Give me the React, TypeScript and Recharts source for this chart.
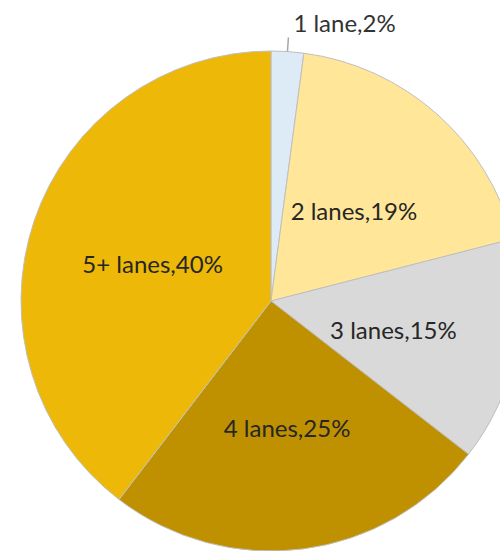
import { PieChart, Pie, Cell } from "recharts";

const categories = ["1 lane", "2 lanes", "3 lanes", "4 lanes", "5+ lanes"];
const shares = [2.1, 18.9, 14.5, 24.9, 39.6];
const shareLabels = ["2%", "19%", "15%", "25%", "40%"];
const COLORS = ["#DDEBF7", "#FFE699", "#D9D9D9", "#BF9000", "#EDB808"];

const data = categories.map((name, i) => ({ name, value: shares[i] }));

const RAD = Math.PI / 180;
const FONT = "Lato, sans-serif";
const FONT_SIZE = 24;

function renderLabel(props: any) {
  const { cx, cy, midAngle, outerRadius, index } = props;
  const text = `${categories[index]},${shareLabels[index]}`;
  const cos = Math.cos(-midAngle * RAD);
  const sin = Math.sin(-midAngle * RAD);
  if (index === 0) {
    // small slice: label outside with a short leader
    const x1 = cx + outerRadius * cos;
    const y1 = cy + outerRadius * sin;
    const x2 = cx + (outerRadius + 14) * cos;
    const y2 = cy + (outerRadius + 14) * sin;
    return (
      <g>
        <line x1={x1} y1={y1} x2={x2} y2={y2} stroke="#A6A6A6" strokeWidth={1.5} />
        <text x={x2 + 5} y={y2 - 6} fill="#333" fontSize={FONT_SIZE} fontFamily={FONT} textAnchor="start">
          {text}
        </text>
      </g>
    );
  }
  const r = outerRadius * 0.5;
  return (
    <text
      x={cx + r * cos}
      y={cy + r * sin}
      dy={3}
      fill="#262626"
      fontSize={FONT_SIZE}
      fontFamily={FONT}
      textAnchor="middle"
      dominantBaseline="central"
    >
      {text}
    </text>
  );
}

export default function App() {
  return (
    <div style={{ position: "absolute", left: 0, top: 0, width: 500, height: 551, background: "#fff" }}>
      <PieChart width={500} height={551} margin={{ top: 0, right: 0, bottom: 0, left: 0 }}>
        <Pie
          data={data}
          dataKey="value"
          nameKey="name"
          cx={271}
          cy={301}
          outerRadius={250}
          startAngle={90}
          endAngle={-270}
          stroke="#BFBFBF"
          strokeWidth={1}
          label={renderLabel}
          labelLine={false}
          isAnimationActive={false}
        >
          {data.map((d, i) => (
            <Cell key={d.name} fill={COLORS[i]} />
          ))}
        </Pie>
      </PieChart>
    </div>
  );
}
